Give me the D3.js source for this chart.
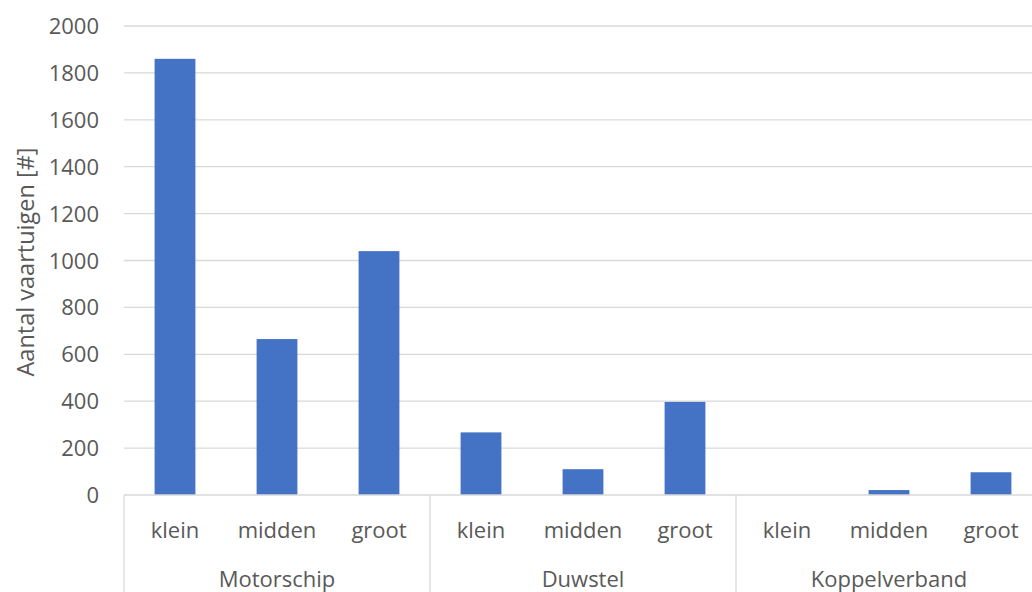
<!DOCTYPE html>
<html>
<head>
<meta charset="utf-8">
<script src="https://cdn.jsdelivr.net/npm/d3@7"></script>
<style>
  body { margin: 0; background: #fff; }
  text { font-family: "Open Sans", sans-serif; fill: #595959; }
</style>
</head>
<body>
<script>
const groups = ['Motorschip', 'Duwstel', 'Koppelverband']
const sizes = ['klein', 'midden', 'groot']
const motorschip = [1860, 665, 1040]
const duwstel = [267, 110, 397]
const koppelverband = [0, 21, 97]
const yTicks = [0, 200, 400, 600, 800, 1000, 1200, 1400, 1600, 1800, 2000]

const WIDTH = 1032
const HEIGHT = 592
const LEFT = 124
const RIGHT = 1042   // plot runs past the right edge, as in the original
const TOP = 26
const BOTTOM = 495

const rows = []
;[motorschip, duwstel, koppelverband].forEach((vals, g) => {
  vals.forEach((v, i) => rows.push({ group: groups[g], size: sizes[i], key: g + '-' + i, value: v }))
})

const svg = d3.select('body').append('svg').attr('width', WIDTH).attr('height', HEIGHT)

const x = d3.scaleBand().domain(rows.map(d => d.key)).range([LEFT, RIGHT]).paddingInner(0.6).paddingOuter(0.3)
const xCat = d3.scaleBand().domain(rows.map(d => d.key)).range([LEFT, RIGHT])
const xGroup = d3.scaleBand().domain(groups).range([LEFT, RIGHT])
const y = d3.scaleLinear().domain([0, 2000]).range([BOTTOM, TOP])

// gridlines
svg.append('g').selectAll('line')
  .data(yTicks.filter(t => t > 0))
  .enter().append('line')
  .attr('x1', LEFT).attr('x2', RIGHT)
  .attr('y1', d => y(d)).attr('y2', d => y(d))
  .attr('stroke', '#d9d9d9').attr('stroke-width', 1.3)

// y tick labels
svg.append('g').selectAll('text')
  .data(yTicks)
  .enter().append('text')
  .attr('x', 99).attr('y', d => y(d) + 8)
  .attr('text-anchor', 'end')
  .style('font-size', '22px')
  .text(d => d)

// bars
svg.append('g').selectAll('rect')
  .data(rows)
  .enter().append('rect')
  .attr('x', d => x(d.key))
  .attr('width', x.bandwidth())
  .attr('y', d => y(d.value))
  .attr('height', d => BOTTOM - y(d.value))
  .attr('fill', '#4472c4')

// x axis line
svg.append('line')
  .attr('x1', LEFT).attr('x2', RIGHT).attr('y1', BOTTOM).attr('y2', BOTTOM)
  .attr('stroke', '#d9d9d9').attr('stroke-width', 1.3)

// group separators
svg.append('g').selectAll('line')
  .data(groups.concat(['end']))
  .enter().append('line')
  .attr('x1', (d, i) => LEFT + i * xGroup.bandwidth())
  .attr('x2', (d, i) => LEFT + i * xGroup.bandwidth())
  .attr('y1', BOTTOM).attr('y2', HEIGHT)
  .attr('stroke', '#d9d9d9').attr('stroke-width', 1.3)

// category labels
svg.append('g').selectAll('text')
  .data(rows)
  .enter().append('text')
  .attr('x', d => xCat(d.key) + xCat.bandwidth() / 2)
  .attr('y', 538)
  .attr('text-anchor', 'middle')
  .style('font-size', '22px')
  .text(d => d.size)

// group labels
svg.append('g').selectAll('text')
  .data(groups)
  .enter().append('text')
  .attr('x', d => xGroup(d) + xGroup.bandwidth() / 2)
  .attr('y', 587)
  .attr('text-anchor', 'middle')
  .style('font-size', '22px')
  .text(d => d)

// y axis title
svg.append('text')
  .attr('transform', `translate(34, 262) rotate(-90)`)
  .attr('text-anchor', 'middle')
  .style('font-size', '23.5px')
  .text('Aantal vaartuigen [#]')
</script>
</body>
</html>
